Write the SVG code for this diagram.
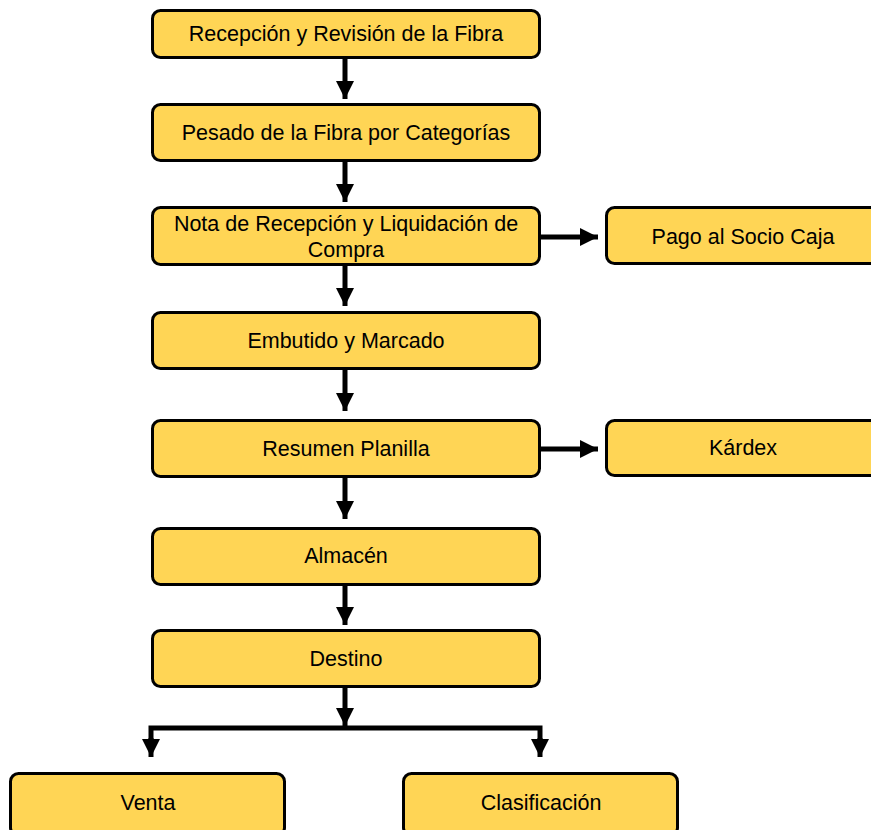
<svg xmlns="http://www.w3.org/2000/svg" width="871" height="830" viewBox="0 0 871 830">
  <style>
    .box { fill: #FFD555; stroke: #000; stroke-width: 3; }
    .lbl { font-family: "Liberation Sans", Arial, sans-serif; font-size: 21.5px; fill: #000; text-anchor: middle; }
    .wire { fill: none; stroke: #000; stroke-width: 5; }
  </style>
  <defs>
    <marker id="head" viewBox="0 0 10 10" refX="10" refY="5" markerWidth="3.6" markerHeight="3.6" markerUnits="strokeWidth" orient="auto">
      <path d="M0,0 L10,5 L0,10 Z" fill="#000"/>
    </marker>
  </defs>
  <rect width="871" height="830" fill="#fff"/>

  <g id="connectors">
    <line class="wire" x1="345" y1="57" x2="345" y2="99" marker-end="url(#head)"/>
    <line class="wire" x1="345" y1="160" x2="345" y2="202" marker-end="url(#head)"/>
    <line class="wire" x1="345" y1="265" x2="345" y2="306" marker-end="url(#head)"/>
    <line class="wire" x1="345" y1="369" x2="345" y2="411" marker-end="url(#head)"/>
    <line class="wire" x1="345" y1="477" x2="345" y2="519" marker-end="url(#head)"/>
    <line class="wire" x1="345" y1="584" x2="345" y2="625" marker-end="url(#head)"/>
    <line class="wire" x1="540" y1="237" x2="598" y2="237" marker-end="url(#head)"/>
    <line class="wire" x1="540" y1="449" x2="598" y2="449" marker-end="url(#head)"/>
    <line class="wire" x1="345" y1="687" x2="345" y2="726" marker-end="url(#head)"/>
    <path class="wire" d="M151,745 V728 H540 V745"/>
    <line class="wire" x1="151" y1="738" x2="151" y2="757" marker-end="url(#head)"/>
    <line class="wire" x1="540" y1="738" x2="540" y2="757" marker-end="url(#head)"/>
  </g>

  <g id="recepcion">
    <rect class="box" x="152.5" y="10.5" width="387" height="47" rx="8"/>
    <text class="lbl" x="346" y="41">Recepción y Revisión de la Fibra</text>
  </g>
  <g id="pesado">
    <rect class="box" x="152.5" y="104.5" width="387" height="56" rx="8"/>
    <text class="lbl" x="346" y="140">Pesado de la Fibra por Categorías</text>
  </g>
  <g id="nota">
    <rect class="box" x="152.5" y="207.5" width="387" height="57" rx="8"/>
    <text class="lbl" x="346" y="231">Nota de Recepción y Liquidación de</text>
    <text class="lbl" x="346" y="257">Compra</text>
  </g>
  <g id="pago">
    <rect class="box" x="606.5" y="207.5" width="274" height="56" rx="8"/>
    <text class="lbl" x="743" y="244">Pago al Socio Caja</text>
  </g>
  <g id="embutido">
    <rect class="box" x="152.5" y="312.5" width="387" height="56" rx="8"/>
    <text class="lbl" x="346" y="348">Embutido y Marcado</text>
  </g>
  <g id="resumen">
    <rect class="box" x="152.5" y="420.5" width="387" height="56" rx="8"/>
    <text class="lbl" x="346" y="456">Resumen Planilla</text>
  </g>
  <g id="kardex">
    <rect class="box" x="606.5" y="420.5" width="274" height="55" rx="8"/>
    <text class="lbl" x="743" y="455">Kárdex</text>
  </g>
  <g id="almacen">
    <rect class="box" x="152.5" y="528.5" width="387" height="56" rx="8"/>
    <text class="lbl" x="346" y="563">Almacén</text>
  </g>
  <g id="destino">
    <rect class="box" x="152.5" y="630.5" width="387" height="56" rx="8"/>
    <text class="lbl" x="346" y="666">Destino</text>
  </g>
  <g id="venta">
    <rect class="box" x="10.5" y="773.5" width="274" height="62" rx="8"/>
    <text class="lbl" x="148" y="810">Venta</text>
  </g>
  <g id="clasificacion">
    <rect class="box" x="403.5" y="773.5" width="274" height="62" rx="8"/>
    <text class="lbl" x="541" y="810">Clasificación</text>
  </g>
</svg>
